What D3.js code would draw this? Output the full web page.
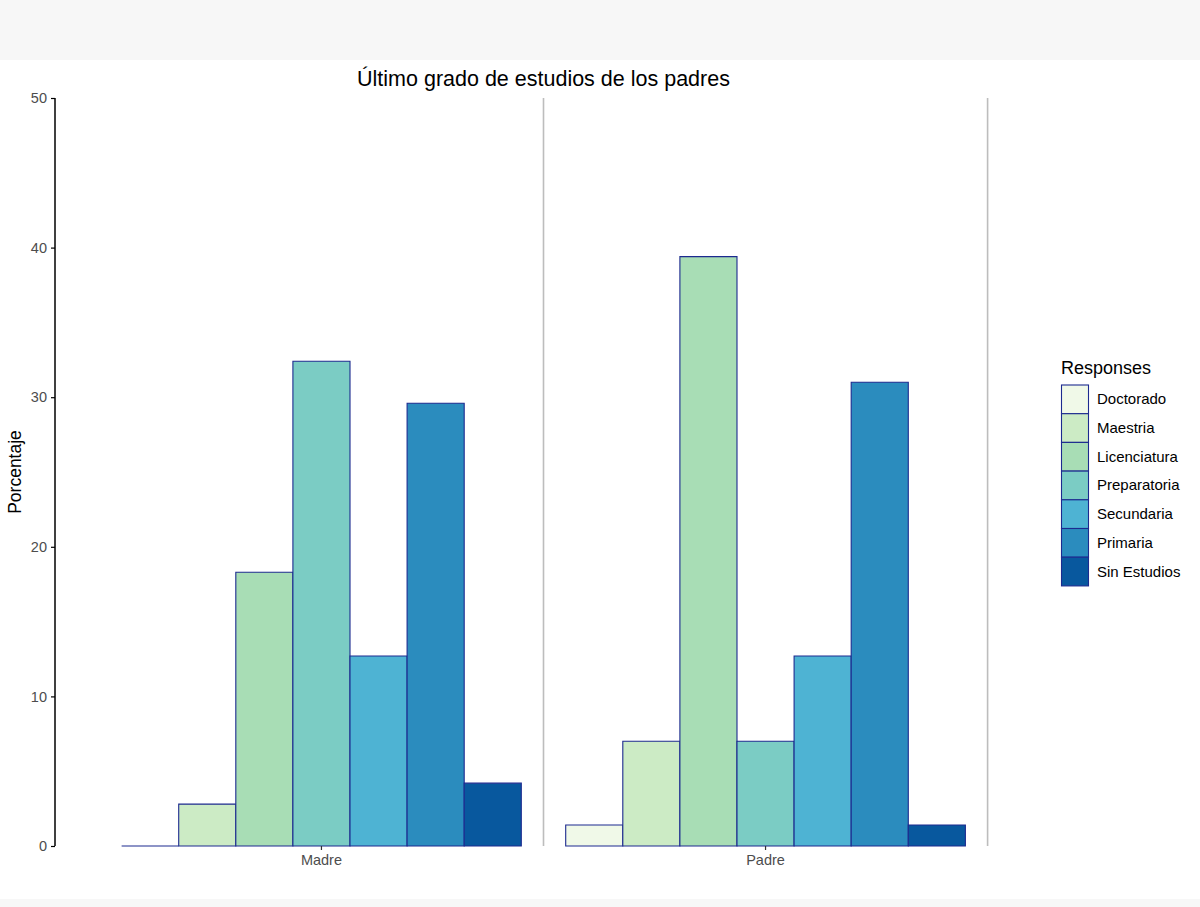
<!DOCTYPE html>
<html>
<head>
<meta charset="utf-8">
<script src="https://cdn.jsdelivr.net/npm/d3@7"></script>
<style>
  body { margin: 0; background: #ffffff; }
  text { font-family: "Liberation Sans", Arial, Helvetica, sans-serif; }
</style>
</head>
<body>
<svg id="chart" width="1200" height="907"></svg>
<script>
// data
var groups = ["Madre", "Padre"];
var responses = ["Doctorado", "Maestria", "Licenciatura", "Preparatoria", "Secundaria", "Primaria", "Sin Estudios"];
var madreValues = [0, 2.8, 18.3, 32.4, 12.7, 29.6, 4.2];
var padreValues = [1.4, 7.0, 39.4, 7.0, 12.7, 31.0, 1.4];
var colors = ["#f0f9e8", "#ccebc5", "#a8ddb5", "#7bccc4", "#4eb3d3", "#2b8cbe", "#08589e"];
var yTicks = [0, 10, 20, 30, 40, 50];

var svg = d3.select("#chart");

// page bands
svg.append("rect").attr("x", 0).attr("y", 0).attr("width", 1200).attr("height", 60).attr("fill", "#f7f7f7");
svg.append("rect").attr("x", 0).attr("y", 899).attr("width", 1200).attr("height", 8).attr("fill", "#f7f7f7");

// panel: discrete x from 0.4 to 2.6 like ggplot
var plotLeft = 55, plotRight = 1032, plotTop = 98, plotBottom = 846;
var xPos = d3.scaleLinear().domain([0.4, 2.6]).range([plotLeft, plotRight]);
var y = d3.scaleLinear().domain([0, 50]).range([plotBottom, plotTop]);

var unit = xPos(2) - xPos(1);
var groupWidth = unit * 0.9;
var x1 = d3.scaleBand().domain(responses).range([-groupWidth / 2, groupWidth / 2]);
var color = d3.scaleOrdinal().domain(responses).range(colors);

// separator lines between groups
[1.5, 2.5].forEach(function(v) {
  svg.append("line")
    .attr("x1", xPos(v)).attr("x2", xPos(v))
    .attr("y1", plotTop).attr("y2", plotBottom)
    .attr("stroke", "#bdbdbd").attr("stroke-width", 1.6);
});

// bars
var rows = [];
groups.forEach(function(g, gi) {
  var vals = gi === 0 ? madreValues : padreValues;
  responses.forEach(function(r, ri) {
    rows.push({ group: g, gi: gi, resp: r, value: vals[ri] });
  });
});

// drawn as paths so a zero bar still shows its outline
svg.append("g").selectAll("path")
  .data(rows)
  .enter().append("path")
  .attr("d", function(d) {
    var bx = xPos(d.gi + 1) + x1(d.resp);
    var w = x1.bandwidth();
    return "M" + bx + "," + y(0) + "V" + y(d.value) + "H" + (bx + w) + "V" + y(0) + "Z";
  })
  .attr("fill", function(d) { return color(d.resp); })
  .attr("stroke", "#1c2a8f")
  .attr("stroke-width", 1.1);

// y axis
var yAxis = d3.axisLeft(y).tickValues(yTicks).tickSize(4).tickPadding(4);
var gy = svg.append("g").attr("transform", "translate(" + plotLeft + ",0)").call(yAxis);
gy.select(".domain").attr("stroke", "#000").attr("stroke-width", 1.5).attr("d", "M0," + plotTop + "V" + plotBottom);
gy.selectAll(".tick line").attr("stroke", "#000").attr("stroke-width", 1.2);
gy.selectAll(".tick text").attr("fill", "#4d4d4d").style("font-size", "14.5px");

// x axis (ticks and labels only)
var gx = svg.append("g");
groups.forEach(function(g, gi) {
  var cx = xPos(gi + 1);
  gx.append("line").attr("x1", cx).attr("x2", cx).attr("y1", plotBottom).attr("y2", plotBottom + 4)
    .attr("stroke", "#333").attr("stroke-width", 1.2);
  gx.append("text").attr("x", cx).attr("y", plotBottom + 19)
    .attr("text-anchor", "middle").attr("fill", "#4d4d4d").style("font-size", "14.5px").text(g);
});

// titles
svg.append("text").attr("x", (plotLeft + plotRight) / 2).attr("y", 86)
  .attr("text-anchor", "middle").attr("fill", "#000").style("font-size", "21.5px")
  .text("Último grado de estudios de los padres");

svg.append("text")
  .attr("transform", "translate(21," + ((plotTop + plotBottom) / 2) + ") rotate(-90)")
  .attr("text-anchor", "middle").attr("fill", "#000").style("font-size", "17.5px")
  .text("Porcentaje");

// legend
var lg = svg.append("g").attr("transform", "translate(1061,0)");
lg.append("text").attr("x", 0).attr("y", 374).attr("fill", "#000").style("font-size", "18px").text("Responses");
var keyH = 28.7;
responses.forEach(function(r, i) {
  var ky = 385 + i * keyH;
  lg.append("rect").attr("x", 0.5).attr("y", ky).attr("width", 27).attr("height", keyH)
    .attr("fill", color(r)).attr("stroke", "#1c2a8f").attr("stroke-width", 1.1);
  lg.append("text").attr("x", 36).attr("y", ky + keyH / 2 + 5)
    .attr("fill", "#000").style("font-size", "15px").text(r);
});
</script>
</body>
</html>
